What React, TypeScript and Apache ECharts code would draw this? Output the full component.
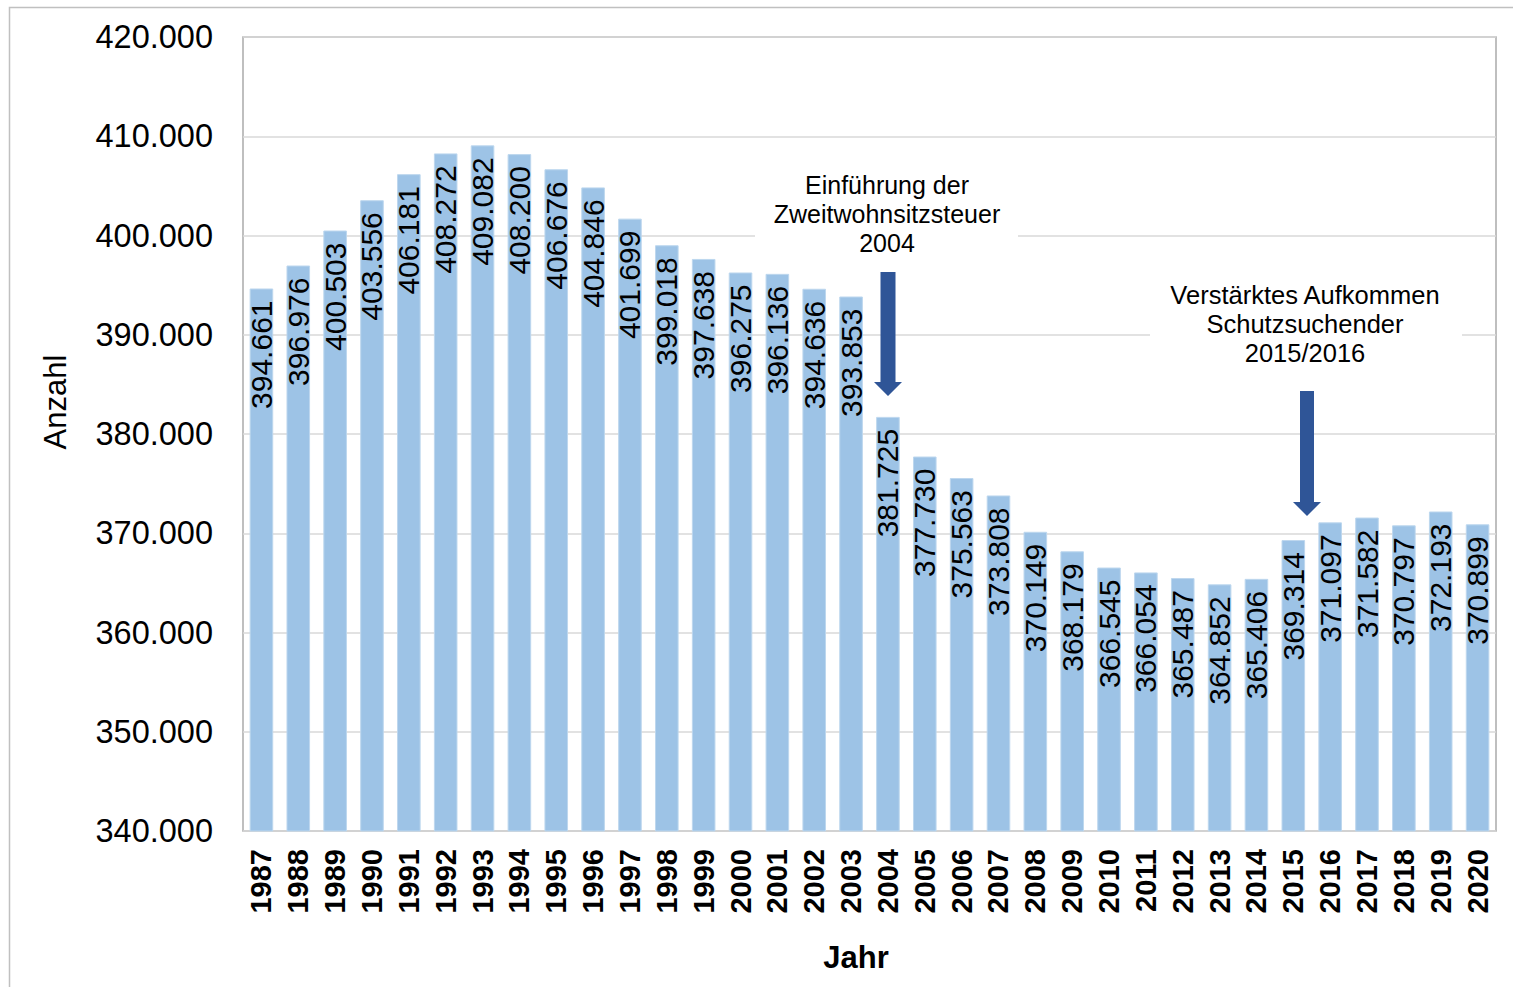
import React, { useEffect, useRef } from "react";
import * as echarts from "echarts";

const years = [
  "1987", "1988", "1989", "1990", "1991", "1992", "1993", "1994", "1995", "1996",
  "1997", "1998", "1999", "2000", "2001", "2002", "2003", "2004", "2005", "2006",
  "2007", "2008", "2009", "2010", "2011", "2012", "2013", "2014", "2015", "2016",
  "2017", "2018", "2019", "2020",
];

const counts = [
  394661, 396976, 400503, 403556, 406181, 408272, 409082, 408200, 406676, 404846,
  401699, 399018, 397638, 396275, 396136, 394636, 393853, 381725, 377730, 375563,
  373808, 370149, 368179, 366545, 366054, 365487, 364852, 365406, 369314, 371097,
  371582, 370797, 372193, 370899,
];

const annotation1 = ["Einführung der", "Zweitwohnsitzsteuer", "2004"];
const annotation2 = ["Verstärktes Aufkommen", "Schutzsuchender", "2015/2016"];

const FONT = "'Liberation Sans', Arial, sans-serif";

function fmt(v: number): string {
  const s = Math.round(v).toString();
  return s.replace(/\B(?=(\d{3})+(?!\d))/g, ".");
}

function arrow(cx: number, top: number, headStart: number, tip: number, shaftW: number, headW: number) {
  return {
    type: "polygon",
    shape: {
      points: [
        [cx - shaftW / 2, top],
        [cx + shaftW / 2, top],
        [cx + shaftW / 2, headStart],
        [cx + headW / 2, headStart],
        [cx, tip],
        [cx - headW / 2, headStart],
        [cx - shaftW / 2, headStart],
      ],
    },
    style: { fill: "#2F5597" },
    z: 100,
  };
}

export default function App() {
  const ref = useRef<HTMLDivElement>(null);

  useEffect(() => {
    document.body.style.margin = "0";
    if (!ref.current) return;
    const chart = echarts.init(ref.current, null, { renderer: "svg" });
    chart.setOption({
      animation: false,
      backgroundColor: "#ffffff",
      grid: {
        left: 243,
        right: 17,
        top: 37,
        bottom: 156,
        show: true,
        borderColor: "#ABABAB",
        borderWidth: 1.5,
        containLabel: false,
      },
      xAxis: {
        type: "category",
        data: years,
        axisLine: { show: false },
        axisTick: { show: false },
        axisLabel: {
          rotate: 90,
          interval: 0,
          margin: 18,
          color: "#000",
          fontFamily: FONT,
          fontWeight: "bold",
          fontSize: 29,
        },
      },
      yAxis: {
        type: "value",
        min: 340000,
        max: 420000,
        interval: 10000,
        axisLine: { show: false },
        axisTick: { show: false },
        splitLine: { lineStyle: { color: "#D9D9D9", width: 1.5 } },
        axisLabel: {
          margin: 30,
          color: "#000",
          fontFamily: FONT,
          fontSize: 32.5,
          formatter: (v: number) => fmt(v),
        },
      },
      series: [
        {
          type: "bar",
          data: counts,
          barWidth: "64%",
          itemStyle: { color: "#9DC3E6", borderColor: "#BDD7EE", borderWidth: 1 },
          label: {
            show: true,
            position: "insideTop",
            rotate: 90,
            align: "right",
            verticalAlign: "middle",
            distance: 12,
            color: "#000",
            fontFamily: FONT,
            fontSize: 30,
            formatter: (p: any) => fmt(p.value),
          },
        },
      ],
      graphic: [
        {
          type: "rect",
          shape: { x: 9.5, y: 7.5, width: 1520, height: 1000 },
          style: { fill: "none", stroke: "#C0C0C0", lineWidth: 1.5 },
          silent: true,
          z: 0,
        },
        {
          type: "rect",
          shape: { x: 755, y: 168, width: 263, height: 92 },
          style: { fill: "#ffffff" },
          z: 50,
        },
        {
          type: "text",
          x: 887,
          y: 214,
          style: {
            text: annotation1.join("\n"),
            align: "center",
            verticalAlign: "middle",
            fontFamily: FONT,
            fontSize: 25,
            lineHeight: 29,
            fill: "#000",
          },
          z: 60,
        },
        arrow(888, 272, 382, 396, 15, 28),
        {
          type: "rect",
          shape: { x: 1150, y: 278, width: 312, height: 92 },
          style: { fill: "#ffffff" },
          z: 50,
        },
        {
          type: "text",
          x: 1305,
          y: 324,
          style: {
            text: annotation2.join("\n"),
            align: "center",
            verticalAlign: "middle",
            fontFamily: FONT,
            fontSize: 25.5,
            lineHeight: 29,
            fill: "#000",
          },
          z: 60,
        },
        arrow(1307, 391, 502, 516, 14, 28),
        {
          type: "text",
          x: 55,
          y: 402,
          rotation: Math.PI / 2,
          style: {
            text: "Anzahl",
            align: "center",
            verticalAlign: "middle",
            fontFamily: FONT,
            fontSize: 31,
            fill: "#000",
          },
        },
        {
          type: "text",
          x: 856,
          y: 957,
          style: {
            text: "Jahr",
            align: "center",
            verticalAlign: "middle",
            fontFamily: FONT,
            fontWeight: "bold",
            fontSize: 31,
            fill: "#000",
          },
        },
      ],
    });
    return () => chart.dispose();
  }, []);

  return <div ref={ref} style={{ width: 1513, height: 987 }} />;
}
